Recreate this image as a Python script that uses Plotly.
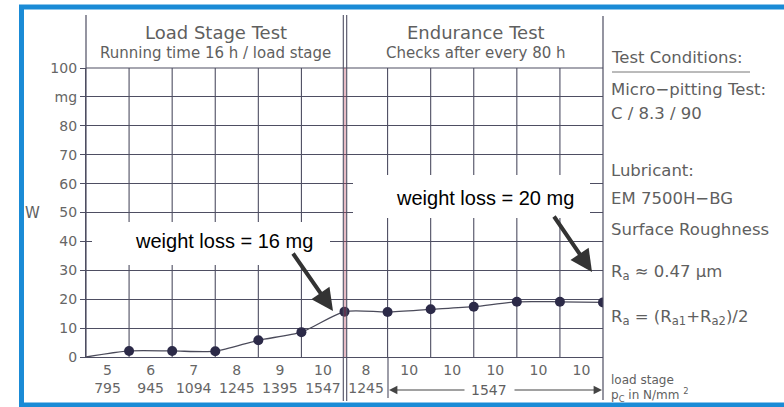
import plotly.graph_objects as go

# ---------------- data ----------------
check_positions = [0, 1, 2, 3, 4, 5, 6, 7, 8, 9, 10, 11, 12]
weight_loss_mg = [0, 2.1, 2.1, 2.0, 5.8, 8.6, 15.7, 15.6, 16.5, 17.4, 19.1, 19.1, 18.9]

label_centers = [0.5, 1.5, 2.5, 3.5, 4.5, 5.5, 6.5, 7.5, 8.5, 9.5, 10.5, 11.5]
load_stage = ['5', '6', '7', '8', '9', '10', '8', '10', '10', '10', '10', '10']
contact_pressure = ['795', '945', '1094', '1245', '1395', '1547', '1245', '', '', '', '', '']

y_tick_vals = [0, 10, 20, 30, 40, 50, 60, 70, 80, 90, 100]
y_tick_text = ['0', '10', '20', '30', '40', '50', '60', '70', '80', 'mg', '100']

column_lines = [1, 2, 3, 4, 5, 7, 8, 9, 10, 11]

# ---------------- layout helpers ----------------
W, H = 784, 407
ML, MR, MT, MB = 86, 181, 68, 50
PW, PH = W - ML - MR, H - MT - MB


def pxx(px):
    return (px - ML) / PW


def pxy(py):
    return (H - MB - py) / PH


GRID = '#4e4e62'
TXT = '#5f5f5f'
FONT = 'DejaVu Sans'

fig = go.Figure()
fig.add_trace(go.Scatter(
    x=check_positions, y=weight_loss_mg, mode='lines',
    line=dict(color='#4a4a5a', width=1.3, shape='spline', smoothing=0.7),
    hoverinfo='skip', showlegend=False))
fig.add_trace(go.Scatter(
    x=check_positions[1:], y=weight_loss_mg[1:], mode='markers',
    marker=dict(color='#2c2a48', size=10),
    showlegend=False))

shapes = []
for c in column_lines:
    shapes.append(dict(type='line', xref='x', yref='y', x0=c, x1=c, y0=0, y1=100,
                       line=dict(color=GRID, width=1.1), layer='below'))
shapes.append(dict(type='line', xref='paper', yref='paper', x0=pxx(388), x1=pxx(388),
                   y0=pxy(398), y1=0, line=dict(color=GRID, width=1.1)))
shapes.append(dict(type='line', xref='paper', yref='paper', x0=0, x1=1, y0=1, y1=1,
                   line=dict(color=GRID, width=1.2)))
shapes.append(dict(type='line', xref='paper', yref='paper', x0=0, x1=0, y0=0, y1=pxy(15),
                   line=dict(color=GRID, width=1.2)))
shapes.append(dict(type='line', xref='paper', yref='paper', x0=1, x1=1, y0=pxy(400), y1=pxy(16),
                   line=dict(color=GRID, width=1.2)))
for px in (343.3, 346.7):
    shapes.append(dict(type='line', xref='paper', yref='paper', x0=pxx(px), x1=pxx(px),
                       y0=pxy(401), y1=pxy(15), line=dict(color=GRID, width=1.1)))
shapes.append(dict(type='line', xref='paper', yref='paper', x0=pxx(345), x1=pxx(345),
                   y0=0, y1=1, line=dict(color='rgba(185,70,95,0.55)', width=1.3)))
shapes.append(dict(type='rect', xref='paper', yref='paper', x0=pxx(92), x1=pxx(330),
                   y0=pxy(265), y1=pxy(222), fillcolor='white', line=dict(width=0), layer='above'))
shapes.append(dict(type='rect', xref='paper', yref='paper', x0=pxx(353), x1=pxx(590),
                   y0=pxy(218), y1=pxy(175), fillcolor='white', line=dict(width=0), layer='above'))
shapes.append(dict(type='line', xref='paper', yref='paper', x0=pxx(612), x1=pxx(750),
                   y0=pxy(72), y1=pxy(72), line=dict(color='#777777', width=1)))
shapes.append(dict(type='rect', xref='paper', yref='paper', x0=pxx(21.5), x1=pxx(820),
                   y0=pxy(405), y1=pxy(7), line=dict(color='#1a8bd6', width=5),
                   fillcolor='rgba(0,0,0,0)'))

ann = []


def txt(text, px, py, size, color=TXT, xanchor='center', family=FONT):
    ann.append(dict(text=text, xref='paper', yref='paper', x=pxx(px), y=pxy(py),
                    xanchor=xanchor, yanchor='middle', showarrow=False,
                    font=dict(family=family, size=size, color=color)))


txt('Load Stage Test', 216, 32, 18)
txt('Running time 16 h / load stage', 215, 53, 15)
txt('Endurance Test', 476, 32, 18)
txt('Checks after every 80 h', 476, 53, 15)

rx = 609
txt('Test Conditions:', rx, 57, 16.5, xanchor='left')
txt('Micro−pitting Test:', rx, 89, 16.5, xanchor='left')
txt('C / 8.3 / 90', rx, 113, 16.5, xanchor='left')
txt('Lubricant:', rx, 170, 16.5, xanchor='left')
txt('EM 7500H−BG', rx, 198, 16.5, xanchor='left')
txt('Surface Roughness', rx, 230, 16.5, xanchor='left')
txt('R<sub>a</sub> ≈ 0.47 µm', rx, 272, 16.5, xanchor='left')
txt('R<sub>a</sub> = (R<sub>a1</sub>+R<sub>a2</sub>)/2', rx, 317, 16.5, xanchor='left')
txt('load stage', rx, 380, 12, xanchor='left')
txt('p<sub>C</sub> in N/mm <sup>2</sup>', rx, 395, 12, xanchor='left')

txt('W', 32, 213, 15)
txt('1547', 489, 390, 14)

txt('weight loss = 16 mg', 223.5, 241, 20, color='black', family='Liberation Sans, Arial')
txt('weight loss = 20 mg', 485, 198, 20, color='black', family='Liberation Sans, Arial')

for (tx, ty, ax, ay) in [(333, 311, -41, -59), (592, 272, -39, -57)]:
    ann.append(dict(text='', xref='paper', yref='paper', x=pxx(tx), y=pxy(ty),
                    ax=ax, ay=ay, showarrow=True, arrowhead=2, arrowsize=1.1,
                    arrowwidth=4, arrowcolor='#333333', standoff=0))
for (tx, ax) in [(389, 77), (602, -89)]:
    ann.append(dict(text='', xref='paper', yref='paper', x=pxx(tx), y=pxy(390),
                    ax=ax, ay=0, showarrow=True, arrowhead=2, arrowsize=1.4,
                    arrowwidth=1.2, arrowcolor='#444444', standoff=0))

fig.update_layout(
    width=W, height=H, autosize=False,
    margin=dict(l=ML, r=MR, t=MT, b=MB, pad=0),
    paper_bgcolor='white', plot_bgcolor='white',
    shapes=shapes, annotations=ann, showlegend=False,
    xaxis=dict(range=[0, 12], showgrid=False, zeroline=False,
               showline=True, linecolor=GRID, linewidth=1.2,
               tickmode='array', tickvals=label_centers,
               ticktext=[f'{a}<br>{b}' for a, b in zip(load_stage, contact_pressure)],
               ticks='', tickfont=dict(family=FONT, size=14, color='#666666')),
    yaxis=dict(range=[0, 100], showgrid=True, gridcolor=GRID, gridwidth=1.1,
               zeroline=False, showline=True, linecolor=GRID, linewidth=1.2,
               tickmode='array', tickvals=y_tick_vals, ticktext=y_tick_text,
               ticks='outside', ticklen=5, tickcolor=GRID, tickwidth=1.1,
               tickfont=dict(family=FONT, size=14, color='#666666')),
)

fig.write_html('out.html', config={'displayModeBar': False},
               post_script="document.body.style.margin='0';document.body.style.overflow='hidden';")
